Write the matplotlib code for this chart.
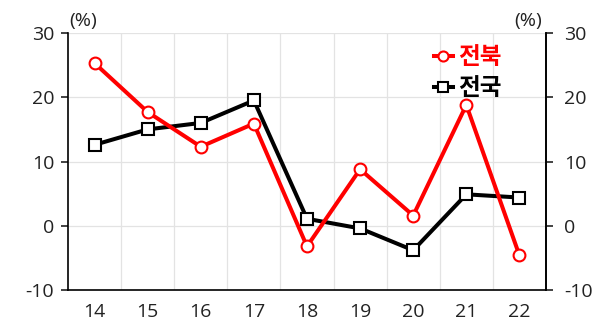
import numpy as np
import matplotlib
matplotlib.use("Agg")
import matplotlib.pyplot as plt

plt.rcParams['font.family'] = ['Open Sans', 'Noto Sans CJK KR', 'DejaVu Sans']

years = ['14', '15', '16', '17', '18', '19', '20', '21', '22']
jeonbuk = [25.3, 17.7, 12.3, 15.9, -3.2, 8.8, 1.6, 18.8, -4.6]
national = [12.6, 15.0, 16.0, 19.5, 1.1, -0.4, -3.8, 4.9, 4.4]
yticks = [-10, 0, 10, 20, 30]

x = np.arange(len(years))

fig = plt.figure(figsize=(5.99, 3.26), dpi=100)
ax = fig.add_axes([0.1135, 0.110, 0.798, 0.789])

ax.plot(x, jeonbuk, color='#ff0000', lw=2.9, marker='o', ms=8.5,
        mfc='white', mec='#ff0000', mew=1.5, label='전북', zorder=4)
ax.plot(x, national, color='black', lw=2.9, marker='s', ms=8,
        mfc='white', mec='black', mew=1.5, label='전국', zorder=3)

ax.set_xlim(-0.5, len(years) - 0.5)
ax.set_ylim(-10, 30)
ax.set_yticks(yticks)
ax.set_yticklabels([str(v) for v in yticks])
ax.set_xticks(x)
ax.set_xticklabels(years)
ax.set_xticks(x[:-1] + 0.5, minor=True)

ax.grid(axis='y', color='#e3e3e3', lw=0.9)
ax.grid(axis='x', which='minor', color='#e3e3e3', lw=0.9)
ax.set_axisbelow(True)

for s in ['left', 'bottom', 'right']:
    ax.spines[s].set_linewidth(1.2)
ax.spines['top'].set_visible(False)

ax.tick_params(axis='y', labelsize=14, length=5, width=1.2, pad=5, colors='#222222')
ax.tick_params(axis='x', which='both', length=0, labelsize=14, pad=9, colors='#222222')

ax2 = ax.twinx()
ax2.set_ylim(-10, 30)
ax2.set_yticks(yticks)
ax2.set_yticklabels([str(v) for v in yticks])
ax2.tick_params(axis='y', labelsize=14, length=5, width=1.2, pad=8, colors='#222222')
for s in ['top', 'left', 'bottom']:
    ax2.spines[s].set_visible(False)
ax2.spines['right'].set_linewidth(1.2)

fig.text(0.139, 0.937, '(%)', fontsize=14, ha='center', va='center', color='#222222')
fig.text(0.882, 0.937, '(%)', fontsize=14, ha='center', va='center', color='#222222')

leg = ax.legend(loc='upper left', bbox_to_anchor=(0.765, 0.948), frameon=False,
                handlelength=0.8, handletextpad=0.25, labelspacing=0.3,
                borderaxespad=0, borderpad=0,
                prop={'size': 17, 'weight': 'bold'}, markerscale=0.85)
for t, c in zip(leg.get_texts(), ['#ff0000', 'black']):
    t.set_color(c)

fig.savefig('out.png', dpi=100)
